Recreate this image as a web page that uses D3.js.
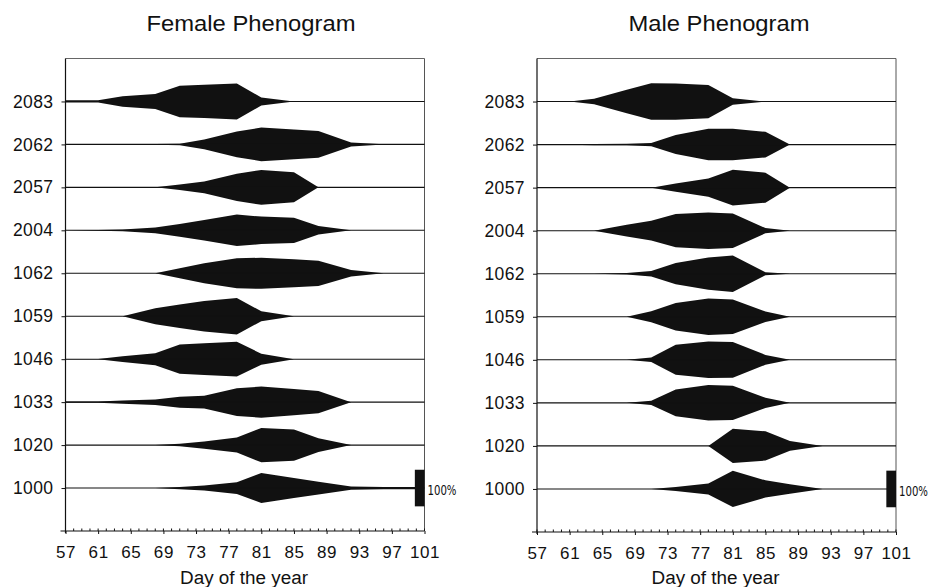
<!DOCTYPE html>
<html>
<head>
<meta charset="utf-8">
<script src="https://cdn.jsdelivr.net/npm/d3@7"></script>
<style>
  html, body { margin: 0; padding: 0; background: #fff; }
  svg { display: block; }
  text { font-family: "Liberation Sans", Arial, sans-serif; fill: #111; }
</style>
</head>
<body>
<svg id="chart" width="934" height="587"></svg>
<script>
// ---- data ----
const days = [57, 61, 64, 68, 71, 74, 78, 81, 85, 88, 92, 96, 100];
const clones = ["2083", "2062", "2057", "2004", "1062", "1059", "1046", "1033", "1020", "1000"];
const xTickValues = [57, 61, 65, 69, 73, 77, 81, 85, 89, 93, 97, 101];

// values: width of each kite as % of the 100% scale bar, one row per clone, one column per day
const femaleValues = [
  [6, 6, 29, 41, 86, 91, 98, 22, 0, 0, 0, 0, 0],     // 2083
  [0, 0, 0, 2, 4, 27, 70, 92, 81, 73, 11, 1, 0],     // 2062
  [0, 0, 0, 0, 15, 32, 75, 95, 82, 0, 0, 0, 0],      // 2057
  [0, 2, 5, 16, 35, 56, 86, 75, 69, 23, 0, 0, 0],    // 2004
  [0, 0, 0, 0, 27, 55, 82, 85, 77, 69, 18, 0, 0],    // 1062
  [0, 0, 0, 44, 64, 83, 100, 27, 0, 0, 0, 0, 0],     // 1059
  [1, 1, 16, 33, 80, 87, 95, 30, 0, 0, 0, 0, 0],     // 1046
  [4, 4, 9, 15, 30, 35, 76, 85, 72, 61, 0, 0, 0],    // 1033
  [0, 0, 0, 0, 7, 20, 41, 94, 85, 38, 0, 0, 0],      // 1020
  [0, 0, 0, 0, 6, 14, 32, 82, 55, 35, 9, 6, 6]       // 1000
];
const maleValues = [
  [0, 0, 15, 64, 100, 99, 91, 18, 0, 0, 0, 0, 0],    // 2083
  [0, 1, 3, 4, 9, 52, 86, 86, 70, 0, 0, 0, 0],       // 2062
  [0, 0, 0, 0, 0, 23, 50, 98, 82, 0, 0, 0, 0],       // 2057
  [0, 0, 0, 32, 54, 91, 100, 94, 14, 0, 0, 0, 0],    // 2004
  [0, 0, 0, 4, 15, 58, 88, 100, 8, 0, 0, 0, 0],      // 1062
  [0, 0, 0, 0, 30, 75, 100, 94, 29, 0, 0, 0, 0],     // 1059
  [0, 0, 0, 0, 12, 82, 100, 98, 27, 0, 0, 0, 0],     // 1046
  [0, 0, 0, 0, 12, 73, 97, 93, 28, 0, 0, 0, 0],      // 1033
  [0, 0, 0, 0, 0, 0, 0, 94, 80, 27, 0, 0, 0],        // 1020
  [0, 0, 0, 0, 0, 11, 30, 99, 47, 26, 0, 0, 0]       // 1000
];
const titles = ["Female Phenogram", "Male Phenogram"];
const xAxisTitle = "Day of the year";
const scaleLabel = "100%";

// ---- layout ----
const panels = [
  { title: titles[0], values: femaleValues, x0: 65.5, x1: 424.5, top: 58.5, bottom: 531, titleX: 251, titleLen: 209 },
  { title: titles[1], values: maleValues,   x0: 537,  x1: 896,   top: 58.5, bottom: 532, titleX: 719, titleLen: 181 }
];

const svg = d3.select("#chart");
svg.append("rect").attr("width", 934).attr("height", 587).attr("fill", "#fff");

panels.forEach(p => {
  const g = svg.append("g");
  const x = d3.scaleLinear().domain([57, 101]).range([p.x0, p.x1]);
  const y = d3.scalePoint().domain(clones).range([p.top, p.bottom]).padding(1);
  const w = d3.scaleLinear().domain([0, 100]).range([0, 36.6]); // full kite width

  // frame: top and right borders
  g.append("line").attr("x1", p.x0).attr("x2", p.x1).attr("y1", p.top).attr("y2", p.top)
    .attr("stroke", "#666").attr("stroke-width", 1);
  g.append("line").attr("x1", p.x1).attr("x2", p.x1).attr("y1", p.top).attr("y2", p.bottom)
    .attr("stroke", "#555").attr("stroke-width", 1);

  // kites
  const area = d3.area()
    .x(d => x(d.day))
    .y0(d => d.base + w(d.v) / 2)
    .y1(d => d.base - w(d.v) / 2)
    .curve(d3.curveLinear);

  clones.forEach((c, i) => {
    const base = y(c);
    const pts = days.map((day, j) => ({ day, v: p.values[i][j], base }));
    g.append("path").attr("d", area(pts)).attr("fill", "#111");
    // baseline
    g.append("line").attr("x1", p.x0).attr("x2", p.x1).attr("y1", base).attr("y2", base)
      .attr("stroke", "#111").attr("stroke-width", 1.1);
  });

  // 100% scale bar on the 1000 row
  const b = y("1000");
  g.append("rect")
    .attr("x", x(100) - 1.5).attr("width", x(101) - x(100) + 1.5)
    .attr("y", b - w(100) / 2).attr("height", w(100))
    .attr("fill", "#111");
  g.append("text")
    .attr("x", p.x1 + 3).attr("y", b + 7)
    .attr("font-size", 13.5)
    .attr("textLength", 29).attr("lengthAdjust", "spacingAndGlyphs")
    .style("font-family", "'Liberation Sans Narrow', 'DejaVu Sans Condensed', 'Liberation Sans', sans-serif")
    .text(scaleLabel);

  // y axis
  const yAxis = d3.axisLeft(y).tickSize(4).tickPadding(8);
  const ya = g.append("g").attr("transform", `translate(${p.x0},0)`).call(yAxis);
  ya.select(".domain").remove();
  ya.selectAll("line").attr("stroke", "#111");
  ya.selectAll("text").attr("font-size", 17.5).style("letter-spacing", "0.4px")
    .attr("dy", "0.32em").style("font-family", "'Liberation Sans', Arial, sans-serif");
  g.append("line").attr("x1", p.x0).attr("x2", p.x0).attr("y1", p.top).attr("y2", p.bottom + 2)
    .attr("stroke", "#111").attr("stroke-width", 1.2);

  // x axis
  const xAxis = d3.axisBottom(x).tickValues(xTickValues).tickSize(3).tickPadding(12).tickFormat(d3.format("d"));
  const xa = g.append("g").attr("transform", `translate(0,${p.bottom})`).call(xAxis);
  xa.select(".domain").remove();
  xa.selectAll("line").attr("stroke", "#111");
  xa.selectAll("text").attr("font-size", 17).style("letter-spacing", "0.6px")
    .style("font-family", "'Liberation Sans', Arial, sans-serif");
  g.append("line").attr("x1", p.x0 - 5).attr("x2", p.x1).attr("y1", p.bottom).attr("y2", p.bottom)
    .attr("stroke", "#111").attr("stroke-width", 1.2);
  // minor ticks every day
  g.append("g").selectAll("line").data(d3.range(57, 102)).join("line")
    .attr("x1", d => x(d)).attr("x2", d => x(d))
    .attr("y1", p.bottom).attr("y2", p.bottom - 2.5)
    .attr("stroke", "#111").attr("stroke-width", 1);

  // axis title
  g.append("text").attr("x", (p.x0 + p.x1) / 2 - 1).attr("y", 584)
    .attr("text-anchor", "middle").attr("font-size", 18)
    .attr("textLength", 128).attr("lengthAdjust", "spacingAndGlyphs")
    .text(xAxisTitle);

  // panel title
  g.append("text").attr("x", p.titleX).attr("y", 31)
    .attr("text-anchor", "middle").attr("font-size", 21.5)
    .attr("textLength", p.titleLen).attr("lengthAdjust", "spacingAndGlyphs")
    .text(p.title);
});
</script>
</body>
</html>
